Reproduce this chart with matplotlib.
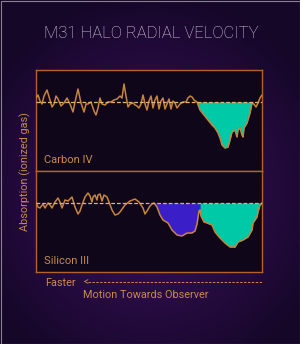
import numpy as np
import matplotlib
matplotlib.use("Agg")
import matplotlib.pyplot as plt
from matplotlib.lines import Line2D
from matplotlib.patches import Rectangle

plt.rcParams['font.family'] = ['Roboto', 'DejaVu Sans']

# velocity (arbitrary units, slower -> faster from left to right) and absorption relative to continuum
carbon_v = [0, 2, 4, 6, 8, 11, 14, 16, 18, 20, 22, 25, 28, 31, 34, 37, 39, 42, 45, 48,
            50, 52, 55, 58, 60, 62, 64, 66, 69, 72, 75, 78, 81, 84, 86, 88, 90, 92, 94, 97,
            99, 101, 103, 105, 107, 109, 111, 113, 115, 117, 119, 121, 123, 125, 127, 129,
            131, 133, 135, 137, 139, 141, 144, 147, 150, 152, 154, 156, 158, 161, 164, 168,
            172, 176, 179, 182, 184, 186, 189, 192, 194, 196, 199, 201, 202, 204, 206, 207,
            208, 211, 214, 216, 217, 220, 222, 224, 226]
carbon_abs = [4, 7, 1, -2, 6, 12, 2, -5, -2, 6, 3, -4, -1, 4, -2, -10, 0, 13, -1, -10,
              -2, -2, 0, -9, -13, -6, 4, -2, -3, 0, 0, 2, 3, 6, 4, 18, 6, -5, -2, -1,
              -3, -4, -6, -2, 7, -2, -8, 1, 6, -6, 2, 6, -7, 1, 4, -7,
              -2, 3, -7, 1, -1, -6, -2, 0, 0, 4, 6, 5, 2, 0, -8, -13,
              -18, -23, -26, -31, -36, -43, -46, -45, -38, -30, -28, -35, -28, -26, -33, -35,
              -26, -21, -11, -1, -1, -5, -1, 4, 7]

silicon_v = [0, 2, 4, 7, 9, 12, 14, 16, 19, 22, 24, 26, 29, 32, 36, 39, 42, 44, 46, 49,
             52, 54, 56, 57, 59, 61, 62, 64, 66, 68, 71, 73, 76, 79, 82, 84, 89, 94, 99, 103,
             107, 109, 111, 114, 116, 118, 121, 124, 127, 132, 136, 141, 146, 151, 156, 159,
             161, 163, 164, 165, 168, 171, 176, 179, 184, 189, 194, 199, 202, 207, 212, 216,
             217, 219, 221, 222, 224, 226]
silicon_abs = [0, -4, -5, -1, -5, 0, -2, -5, 1, 5, 1, -5, 3, 2, 6, -4, -11, -8, -2, 6,
               10, 7, 1, 6, 8, 3, 8, 9, 2, 8, 6, 1, -7, -12, -11, -9, -2, 2, 4, 1,
               -5, -11, -8, -3, -1, 0, -4, -12, -17, -20, -27, -32, -33, -30, -30, -28,
               -21, -8, -7, -13, -19, -20, -22, -29, -35, -40, -44, -44, -39, -37, -34, -27,
               -20, -17, -14, -9, -2, 0]

carbon_fast = (161, 216)      # fast component, Carbon IV
silicon_mid = (118, 164)      # intermediate component, Silicon III
silicon_fast = (164, 226)     # fast component, Silicon III

LINE = '#c8843c'
BASE = '#e2b46e'
EDGE = '#b3622c'
TEAL = '#00c9a7'
PURPLE = '#3a1fc9'
TXT = '#c98a4c'

W, H = 300, 344
fig = plt.figure(figsize=(W / 100, H / 100), dpi=100)

# background radial glow
bg = fig.add_axes([0, 0, 1, 1])
yy, xx = np.mgrid[0:H, 0:W]
r = np.sqrt(((xx - 150) / 190.0) ** 2 + ((yy - 190) / 200.0) ** 2)
r = np.clip(r, 0, 1)
c0 = np.array([0x3e, 0x11, 0x62]) / 255
c1 = np.array([0x15, 0x07, 0x28]) / 255
img = c0[None, None, :] * (1 - r[..., None]) + c1[None, None, :] * r[..., None]
bg.imshow(img, extent=[0, W, H, 0], aspect='auto')
bg.set_xlim(0, W)
bg.set_ylim(H, 0)
bg.axis('off')
bg.add_patch(Rectangle((0.5, 0.5), W - 1, H - 1, fill=False, ec='#8a8092', lw=0.8))


def px(x, y):
    return x / W, 1 - y / H


def panel(top, bottom, v, a, fills, label):
    l, b = px(36, bottom)
    ax = fig.add_axes([l, b, 226 / W, (bottom - top) / H])
    ax.set_facecolor('#0f0619')
    v = np.array(v, float)
    a = np.array(a, float)
    for (lo, hi), col in fills:
        m = (v >= lo) & (v <= hi)
        ax.fill_between(v, a, 0, where=m & (a <= 0.5), color=col, lw=0, interpolate=True, zorder=2)
    ax.plot(v, a, color=LINE, lw=1.1, zorder=3, solid_joinstyle='round', solid_capstyle='round')
    ax.axhline(0, color=BASE, lw=0.9, ls=(0, (3, 1.6)), zorder=4)
    ax.set_xlim(0, 226)
    ax.set_ylim(-69, 32)
    ax.set_xticks([])
    ax.set_yticks([])
    for s in ax.spines.values():
        s.set_color(EDGE)
        s.set_linewidth(1.0)
    ax.text(8, -58, label, color=TXT, fontsize=8, va='center', ha='left')
    return ax


panel(70, 171, carbon_v, carbon_abs, [(carbon_fast, TEAL)], 'Carbon IV')
panel(171, 272, silicon_v, silicon_abs, [(silicon_mid, PURPLE), (silicon_fast, TEAL)], 'Silicon III')

fig.text(*px(151, 33), 'M31 HALO RADIAL VELOCITY', color='#d9d1e2', fontsize=12,
         weight='light', ha='center', va='center')
fig.text(*px(25, 172), 'Absorption (ionized gas)', color=TXT, fontsize=7.8,
         rotation=90, ha='center', va='center')
fig.text(*px(45, 283), 'Faster', color=TXT, fontsize=7.8, ha='left', va='center')
fig.text(*px(83, 294.5), 'Motion Towards Observer', color=TXT, fontsize=7.8,
         ha='left', va='center')
fig.text(*px(84, 282), '<', color=TXT, fontsize=7, ha='left', va='center')
x0, y0 = px(88, 282)
x1, _ = px(262, 282)
fig.add_artist(Line2D([x0, x1], [y0, y0], color=TXT, lw=0.7, ls=(0, (2.5, 1.5))))

fig.savefig('out.png', dpi=100)
